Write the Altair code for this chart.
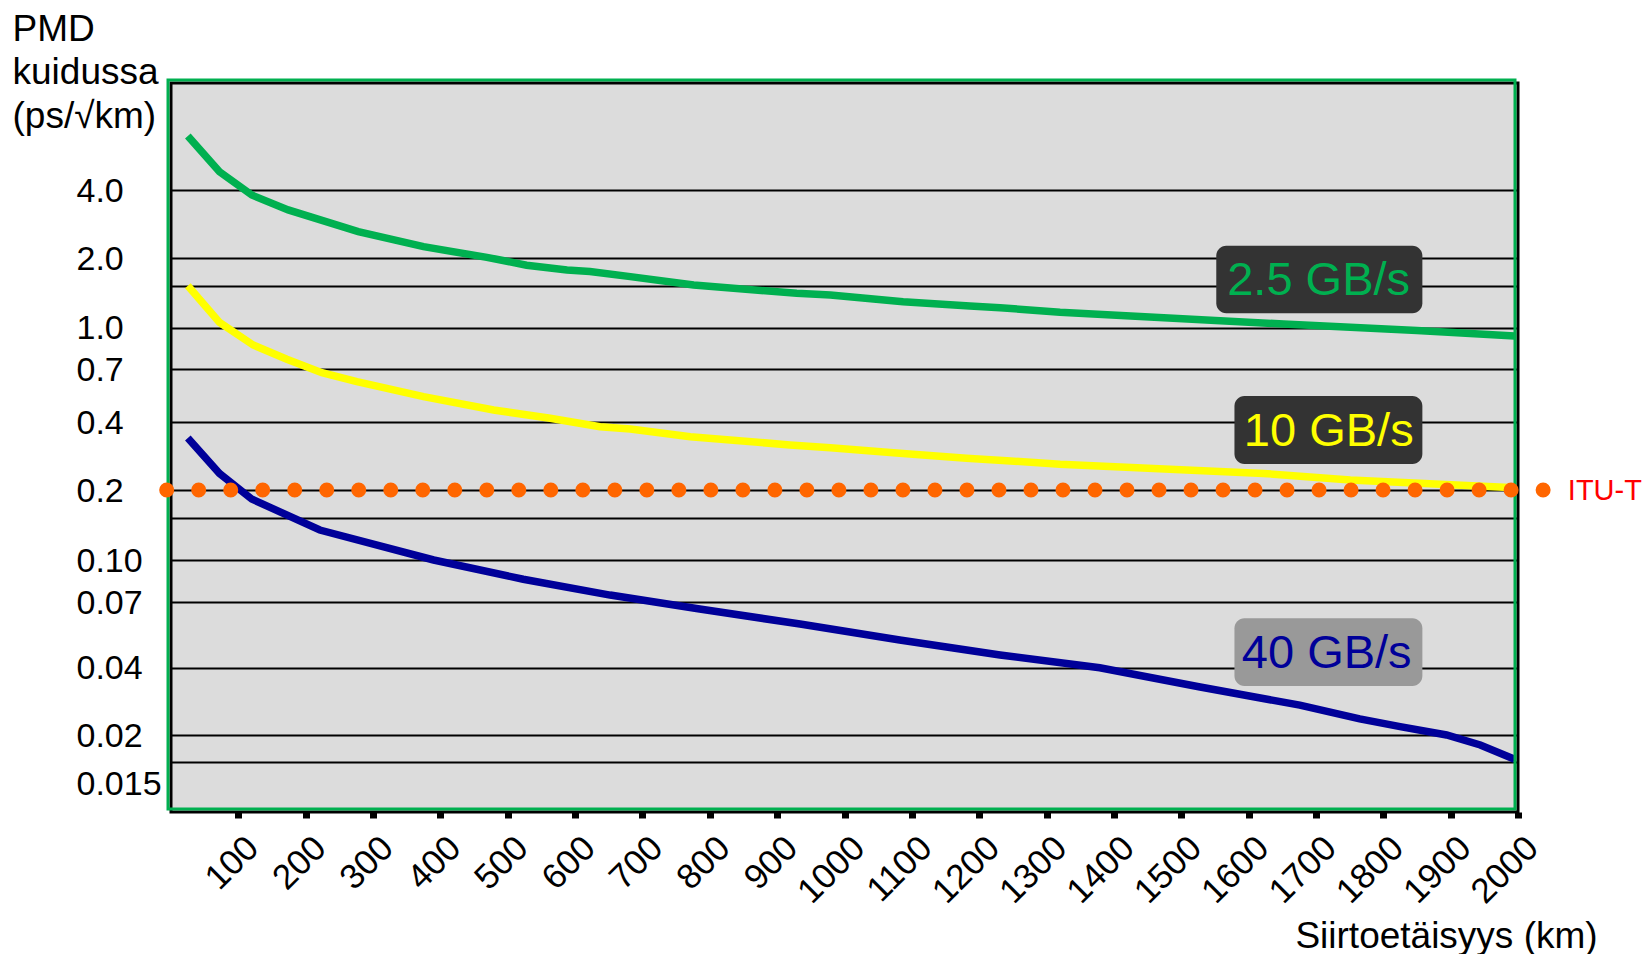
import altair as alt
import pandas as pd

FONT = "Liberation Sans"

# ---------------- data ----------------
series_names = ["2.5 GB/s", "10 GB/s", "40 GB/s"]
series_colors = ["#00B050", "#FFFF00", "#000099"]

green_km = [25, 72, 120, 174, 278, 375, 469, 528, 588, 622, 682, 776, 929, 979,
            1087, 1186, 1231, 1320, 1488, 1652, 1850, 1995]
green_val = [6.91, 4.81, 3.80, 3.27, 2.62, 2.25, 2.02, 1.86, 1.77, 1.74, 1.65, 1.51,
             1.394, 1.371, 1.285, 1.233, 1.213, 1.160, 1.095, 1.036, 0.977, 0.931]

yellow_km = [25, 72, 122, 172, 224, 276, 375, 479, 563, 637, 682, 771, 919, 979,
             1082, 1181, 1241, 1320, 1622, 1751, 1995]
yellow_val = [1.50, 1.053, 0.862, 0.763, 0.675, 0.614, 0.524, 0.455, 0.417, 0.382,
              0.373, 0.345, 0.317, 0.308, 0.291, 0.2765, 0.270, 0.260, 0.237, 0.2215, 0.2048]

blue_km = [25, 72, 120, 221, 390, 523, 652, 785, 934, 1082, 1231, 1379, 1528,
           1676, 1765, 1825, 1894, 1944, 1995]
blue_val = [0.340, 0.237, 0.182, 0.1333, 0.100, 0.0850, 0.0744, 0.0661, 0.0581,
            0.0507, 0.0446, 0.0400, 0.0328, 0.0272, 0.0236, 0.0218, 0.0200, 0.0180, 0.0155]

# ITU-T limit
itu_value = 0.2
itu_label = "ITU-T"

# axis ticks / labels
x_tick_values = list(range(100, 2001, 100))
y_tick_values = [4.0, 2.0, 1.5, 1.0, 0.7, 0.4, 0.2, 0.15, 0.1, 0.07, 0.04, 0.02, 0.015]
y_tick_labels = ["4.0", "2.0", "", "1.0", "0.7", "0.4", "0.2", "", "0.10", "0.07",
                 "0.04", "0.02", "0.015"]

# annotation boxes (data units)
box_labels = ["2.5 GB/s", "10 GB/s", "40 GB/s"]
box_text_colors = ["#00B050", "#FFFF00", "#000099"]
box_fills = ["#333333", "#333333", "#999999"]
box_km1 = [1552, 1579, 1579]
box_km2 = [1858, 1858, 1858]
box_v1 = [2.273, 0.528, 0.0611]
box_v2 = [1.149, 0.261, 0.0331]
box_text_km = [1704, 1719, 1716]
box_text_v = [1.601, 0.369, 0.0457]

# ---------------- layout constants ----------------
W, H = 1347, 729
# the value axis of the original is a hand-spaced logarithmic scale
Y_BREAKS = [0.0089, 0.015, 0.02, 0.04, 0.07, 0.1, 0.15, 0.2, 0.4, 0.7, 1.0, 1.5, 2.0, 4.0, 11.8]
Y_PIX = [729, 679.3, 652, 584.7, 519.3, 477, 434.7, 407, 339.2, 286.3, 244.7, 202.7, 175.3, 107, 0]
ITU_KM_START, ITU_KM_END, ITU_TEXT_KM = -6.4, 2037.6, 2074

x_scale = alt.Scale(domain=[0, 2000], nice=False, zero=False)
y_scale = alt.Scale(type="log", domain=Y_BREAKS, range=Y_PIX, nice=False)

label_expr = ""
for v, l in zip(y_tick_values, y_tick_labels):
    label_expr += f"abs(datum.value - {v}) < 1e-9 ? '{l}' : "
label_expr += "''"

rows = []
for name, kms, vals in [(series_names[0], green_km, green_val),
                        (series_names[1], yellow_km, yellow_val),
                        (series_names[2], blue_km, blue_val)]:
    for k, v in zip(kms, vals):
        rows.append({"series": name, "km": k, "pmd": v})
lines_df = pd.DataFrame(rows)

x_axis = alt.Axis(
    values=x_tick_values, format="d", labelAngle=-45, labelAlign="right",
    labelBaseline="middle", labelPadding=24, labelOffset=14, labelFont=FONT,
    labelFontSize=35, labelColor="black", labelFlush=False, labelOverlap=False,
    tickColor="black", tickWidth=7, tickSize=6, domain=False, grid=False,
    title="Siirtoetäisyys (km)", titleX=1275, titleY=135, titleAlign="center",
    titleBaseline="alphabetic", titleFont=FONT, titleFontSize=37,
    titleFontWeight="normal", titleColor="black",
)
y_axis = alt.Axis(
    values=y_tick_values, labelExpr=label_expr, grid=True, gridColor="black",
    gridWidth=2, gridOpacity=1, ticks=False, tickSize=0, domain=False,
    labelAlign="left", labelBaseline="middle", labelPadding=95,
    labelOffset={"condition": {"test": "abs(datum.value - 0.015) < 1e-9", "value": 22}, "value": 1},
    labelFont=FONT, labelFontSize=34, labelColor="black", labelOverlap=False,
    title=["PMD", "kuidussa", "(ps/√km)"], titleAngle=0, titleAlign="left",
    titleBaseline="top", titleX=-159, titleY=-72, titleLineHeight=43.5,
    titleFont=FONT, titleFontSize=37, titleFontWeight="normal", titleColor="black",
)


def X(field):
    return alt.X(field, type="quantitative", scale=x_scale, axis=x_axis)


def Y(field):
    return alt.Y(field, type="quantitative", scale=y_scale, axis=y_axis)


lines = alt.Chart(lines_df).mark_line(strokeWidth=7.5).encode(
    x=X("km"),
    y=Y("pmd"),
    color=alt.Color("series:N", scale=alt.Scale(domain=series_names, range=series_colors), legend=None),
    detail="series:N",
)

green_frame = alt.Chart(alt.Data(values=[{}])).mark_rect(
    fillOpacity=0, stroke="#00B050", strokeWidth=3
).encode(x=alt.value(-3), x2=alt.value(W - 3), y=alt.value(-3), y2=alt.value(H - 3))

itu_df = pd.DataFrame({"k0": [ITU_KM_START], "k1": [ITU_KM_END], "v": [itu_value],
                       "tk": [ITU_TEXT_KM], "label": [itu_label]})
itu_rule = alt.Chart(itu_df).mark_rule(
    color="#FF6600", strokeWidth=15, strokeDash=[0.01, 32], strokeCap="round"
).encode(x=X("k0"), x2="k1:Q", y=Y("v"))
itu_text = alt.Chart(itu_df).mark_text(
    font=FONT, fontSize=29, align="left", baseline="middle", color="#FF0000", dy=1
).encode(x=X("tk"), y=Y("v"), text="label:N")

box_df = pd.DataFrame({"label": box_labels, "tcolor": box_text_colors, "fill": box_fills,
                       "k1": box_km1, "k2": box_km2, "v1": box_v1, "v2": box_v2,
                       "tk": box_text_km, "tv": box_text_v})
boxes = alt.Chart(box_df).mark_rect(cornerRadius=10).encode(
    x=X("k1"), x2="k2:Q", y=Y("v1"), y2="v2:Q",
    fill=alt.Fill("fill:N", scale=None),
)
box_text = alt.Chart(box_df).mark_text(
    font=FONT, fontSize=47, align="center", baseline="middle", dy=2
).encode(
    x=X("tk"), y=Y("tv"), text="label:N",
    color=alt.Color("tcolor:N", scale=None),
)

chart = alt.layer(lines, green_frame, itu_rule, itu_text, boxes, box_text).resolve_scale(
    color="independent", fill="independent"
).properties(
    width=W, height=H, padding={"left": 4, "top": 2, "right": 0, "bottom": 0},
    background="white",
).configure_view(fill="#DCDCDC", stroke="black", strokeWidth=3)

chart.save("out.html", embed_options={"renderer": "svg", "actions": False})
